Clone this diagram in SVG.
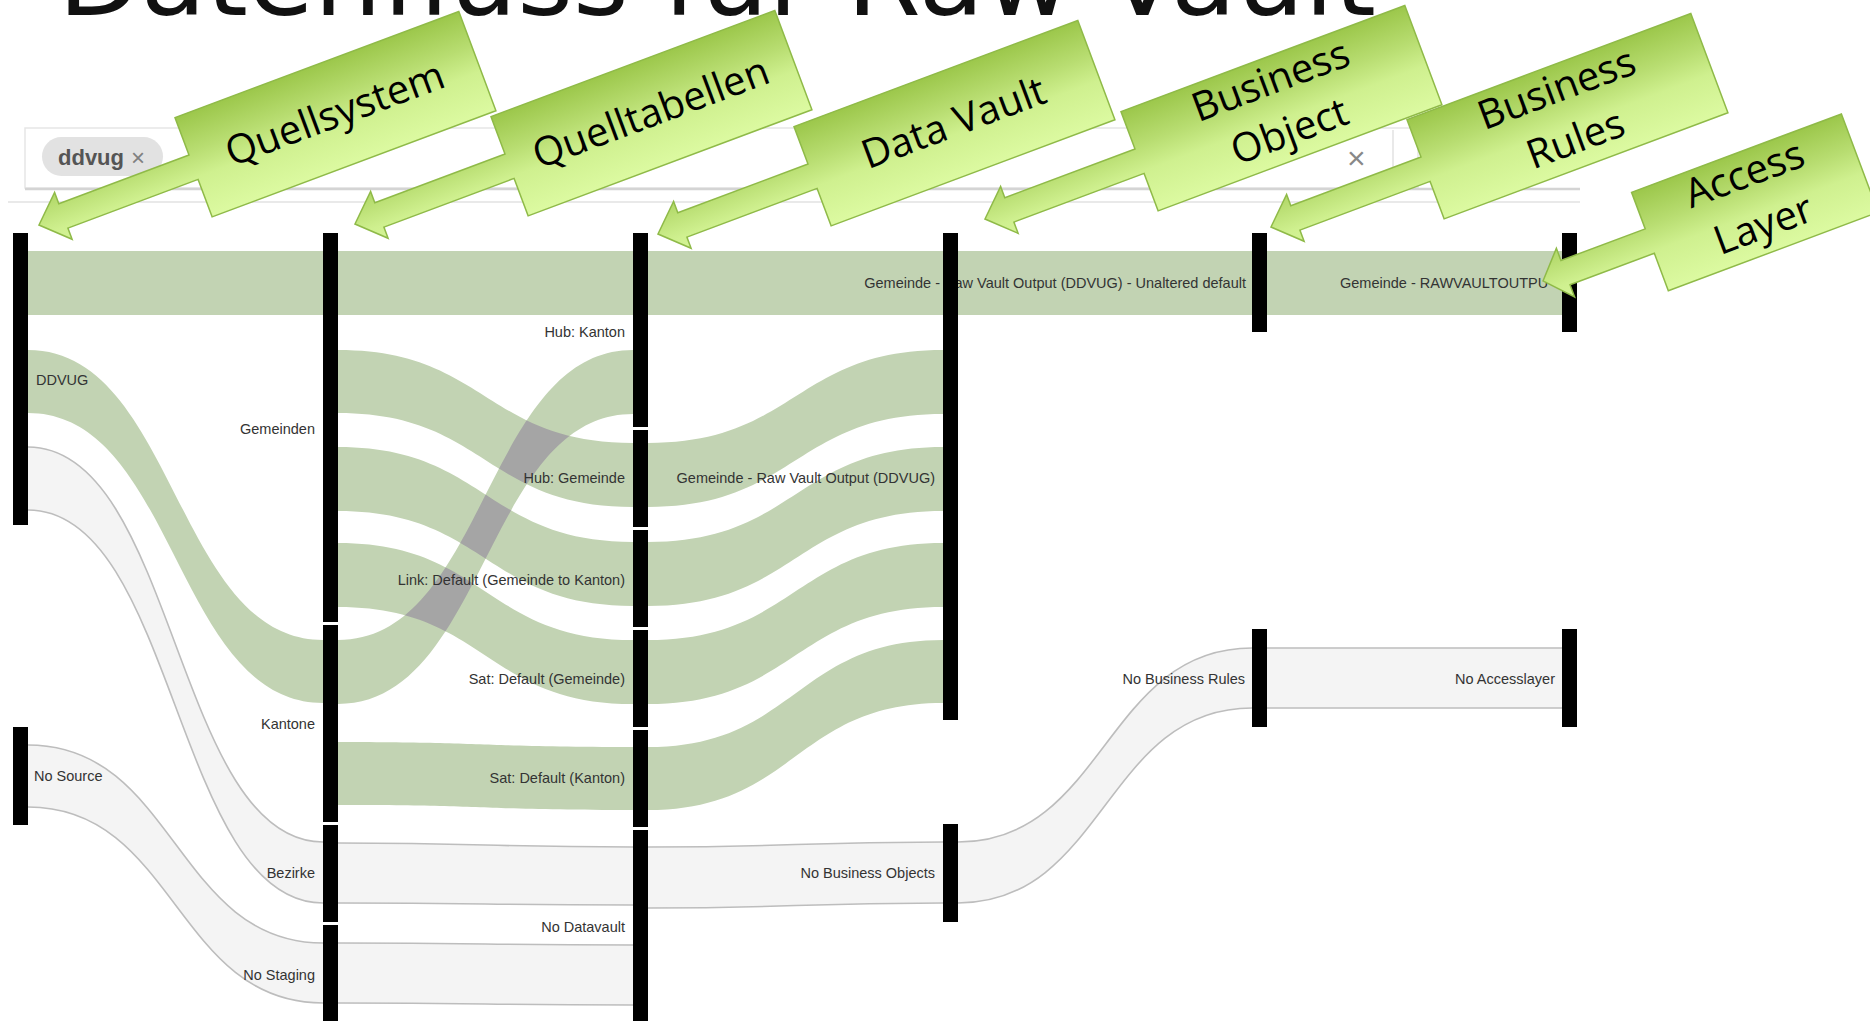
<svg xmlns="http://www.w3.org/2000/svg" xmlns:xlink="http://www.w3.org/1999/xlink" width="1870" height="1021" viewBox="0 0 1870 1021">
<style>
.bar{fill:#000}
.g{fill:#c2d3b3}
.ov{fill:#a5a5a5}
.lt{fill:#f4f4f4;stroke:#bdbdbd;stroke-width:1.6}
.lab{font-family:"Liberation Sans",Arial,sans-serif;font-size:14.5px;fill:#333}
.e{text-anchor:end}
.co{fill:url(#cg);stroke:#8fba48;stroke-width:1.5}
.ct{font-family:"Open Sans","Noto Sans",sans-serif;font-size:40px;fill:#000;text-anchor:middle}
</style>
<defs>
<linearGradient id="cg" x1="0" y1="0" x2="0" y2="1">
<stop offset="0" stop-color="#9cc74b"/>
<stop offset="0.35" stop-color="#b8dd71"/>
<stop offset="0.6" stop-color="#cff08f"/>
<stop offset="1" stop-color="#dcfaa1"/>
</linearGradient>
<path id="callStd" d="M0,0 L26,-25 L26,-13 L165,-13 L165,-53 L468,-53 L468,53 L165,53 L165,13 L26,13 L26,25 Z"/>
<path id="callAL" d="M0,0 L24,-26 L24,-13 L114,-13 L114,-52 L338,-52 L338,53 L114,53 L114,13 L24,13 L24,26 Z"/>
<path id="b5" d="M330 350 L338 350 C485.5 350 485.5 443 633 443 L641 443 L641 507 L633 507 C485.5 507 485.5 413 338 413 L330 413 Z"/>
<path id="b6" d="M330 447 L338 447 C485.5 447 485.5 542 633 542 L641 542 L641 606 L633 606 C485.5 606 485.5 511 338 511 L330 511 Z"/>
<path id="b7" d="M330 543 L338 543 C485.5 543 485.5 640 633 640 L641 640 L641 704 L633 704 C485.5 704 485.5 607 338 607 L330 607 Z"/>
<path id="b8" d="M330 640 L338 640 C485.5 640 485.5 350 633 350 L641 350 L641 414 L633 414 C485.5 414 485.5 704 338 704 L330 704 Z"/>
<clipPath id="riseClip"><use xlink:href="#b8"/></clipPath>
</defs>
<rect x="0" y="0" width="1870" height="1021" fill="#fff"/>

<g id="title">
<text x="58" y="15" font-family="DejaVu Sans,Verdana,sans-serif" font-size="104" textLength="1318" lengthAdjust="spacingAndGlyphs" fill="#111">Datenfluss für Raw Vault</text>
</g>

<g id="filterbar">
<rect x="25" y="128" width="1393" height="60" fill="#fff" stroke="#e6e6e6" stroke-width="1.5"/>
<line x1="25" y1="189" x2="1580" y2="189" stroke="#d4d4d4" stroke-width="2.5"/>
<line x1="8" y1="202" x2="1580" y2="202" stroke="#e9e9e9" stroke-width="2"/>
<line x1="1393" y1="130" x2="1393" y2="186" stroke="#e2e2e2" stroke-width="1.5"/>
<rect x="42" y="137" width="121" height="39" rx="19.5" fill="#e2e2e2"/>
<text x="58" y="165" font-family="Liberation Sans,Arial,sans-serif" font-size="22" font-weight="bold" fill="#555">ddvug</text>
<text x="131" y="166" font-family="Liberation Sans,Arial,sans-serif" font-size="24" fill="#808080">×</text>
<text x="1347" y="169" font-family="Liberation Sans,Arial,sans-serif" font-size="32" fill="#888">×</text>
</g>

<g id="connectors">
<rect class="g" x="20" y="251" width="1550" height="64"/>
<path class="g" d="M20 350 L28 350 C175.5 350 175.5 640 323 640 L331 640 L331 703 L323 703 C175.5 703 175.5 413 28 413 L20 413 Z"/>
<path class="lt" d="M20 447 L28 447 C175.5 447 175.5 842 323 842 L331 842 L331 903 L323 903 C175.5 903 175.5 510 28 510 L20 510 Z"/>
<path class="lt" d="M20 745 L28 745 C175.5 745 175.5 943 323 943 L331 943 L331 1003 L323 1003 C175.5 1003 175.5 807 28 807 L20 807 Z"/>
<use class="g" xlink:href="#b5"/>
<use class="g" xlink:href="#b6"/>
<use class="g" xlink:href="#b7"/>
<use class="g" xlink:href="#b8"/>
<g clip-path="url(#riseClip)">
<use class="ov" xlink:href="#b5"/>
<use class="ov" xlink:href="#b6"/>
<use class="ov" xlink:href="#b7"/>
</g>
<path class="g" d="M330 742 L338 742 C485.5 742 485.5 747 633 747 L641 747 L641 810 L633 810 C485.5 810 485.5 805 338 805 L330 805 Z"/>
<path class="lt" d="M330 843 L338 843 C485.5 843 485.5 847 633 847 L641 847 L641 905 L633 905 C485.5 905 485.5 903 338 903 L330 903 Z"/>
<path class="lt" d="M330 943 L338 943 C485.5 943 485.5 945 633 945 L641 945 L641 1005 L633 1005 C485.5 1005 485.5 1003 338 1003 L330 1003 Z"/>
<path class="g" d="M640 443 L648 443 C795.5 443 795.5 350 943 350 L951 350 L951 414 L943 414 C795.5 414 795.5 507 648 507 L640 507 Z"/>
<path class="g" d="M640 542 L648 542 C795.5 542 795.5 447 943 447 L951 447 L951 511 L943 511 C795.5 511 795.5 606 648 606 L640 606 Z"/>
<path class="g" d="M640 640 L648 640 C795.5 640 795.5 543 943 543 L951 543 L951 607 L943 607 C795.5 607 795.5 704 648 704 L640 704 Z"/>
<path class="g" d="M640 747 L648 747 C795.5 747 795.5 640 943 640 L951 640 L951 703 L943 703 C795.5 703 795.5 810 648 810 L640 810 Z"/>
<path class="lt" d="M640 847 L648 847 C795.5 847 795.5 842 943 842 L951 842 L951 903 L943 903 C795.5 903 795.5 908 648 908 L640 908 Z"/>
<path class="lt" d="M950 842 L958 842 C1105 842 1105 648 1252 648 L1260 648 L1260 708 L1252 708 C1105 708 1105 903 958 903 L950 903 Z"/>
<path class="lt" d="M1259 648 L1570 648 L1570 708 L1259 708 Z"/>
</g>

<g id="labels">
<text class="lab" x="36" y="385">DDVUG</text>
<text class="lab" x="34" y="781">No Source</text>
<text class="lab e" x="315" y="434">Gemeinden</text>
<text class="lab e" x="315" y="729">Kantone</text>
<text class="lab e" x="315" y="878">Bezirke</text>
<text class="lab e" x="315" y="980">No Staging</text>
<text class="lab e" x="625" y="337">Hub: Kanton</text>
<text class="lab e" x="625" y="483">Hub: Gemeinde</text>
<text class="lab e" x="625" y="585">Link: Default (Gemeinde to Kanton)</text>
<text class="lab e" x="625" y="684">Sat: Default (Gemeinde)</text>
<text class="lab e" x="625" y="783">Sat: Default (Kanton)</text>
<text class="lab e" x="625" y="932">No Datavault</text>
<text class="lab e" x="935" y="483">Gemeinde - Raw Vault Output (DDVUG)</text>
<text class="lab e" x="935" y="878">No Business Objects</text>
<text class="lab e" x="1246" y="288">Gemeinde - Raw Vault Output (DDVUG) - Unaltered default</text>
<text class="lab e" x="1245" y="684">No Business Rules</text>
<text class="lab" x="1340" y="288">Gemeinde - RAWVAULTOUTPU</text>
<text class="lab e" x="1555" y="684">No Accesslayer</text>
</g>

<g id="nodes">
<rect id="n-ddvug" class="bar" x="13" y="233" width="15" height="292"/>
<rect id="n-nosource" class="bar" x="13" y="727" width="15" height="98"/>
<rect id="n-gemeinden" class="bar" x="323" y="233" width="15" height="389"/>
<rect id="n-kantone" class="bar" x="323" y="625" width="15" height="197"/>
<rect id="n-bezirke" class="bar" x="323" y="825" width="15" height="97"/>
<rect id="n-nostaging" class="bar" x="323" y="925" width="15" height="110"/>
<rect id="n-hubkanton" class="bar" x="633" y="233" width="15" height="194"/>
<rect id="n-hubgemeinde" class="bar" x="633" y="430" width="15" height="97"/>
<rect id="n-link" class="bar" x="633" y="530" width="15" height="97"/>
<rect id="n-satgem" class="bar" x="633" y="630" width="15" height="97"/>
<rect id="n-satkanton" class="bar" x="633" y="730" width="15" height="97"/>
<rect id="n-nodv" class="bar" x="633" y="830" width="15" height="205"/>
<rect id="n-rvo" class="bar" x="943" y="233" width="15" height="487"/>
<rect id="n-nobo" class="bar" x="943" y="824" width="15" height="98"/>
<rect id="n-br-top" class="bar" x="1252" y="233" width="15" height="99"/>
<rect id="n-nobr" class="bar" x="1252" y="629" width="15" height="98"/>
<rect id="n-al-top" class="bar" x="1562" y="233" width="15" height="99"/>
<rect id="n-noal" class="bar" x="1562" y="629" width="15" height="98"/>
</g>

<g id="callouts">
<g id="c-quellsystem" transform="translate(39,225) rotate(-20.5)">
<use class="co" xlink:href="#callStd"/>
<text class="ct" x="316" y="13">Quellsystem</text>
</g>
<g id="c-quelltabellen" transform="translate(355,224) rotate(-20.5)">
<use class="co" xlink:href="#callStd"/>
<text class="ct" x="316" y="13">Quelltabellen</text>
</g>
<g id="c-datavault" transform="translate(658,234) rotate(-20.5)">
<use class="co" xlink:href="#callStd"/>
<text class="ct" x="316" y="13">Data Vault</text>
</g>
<g id="c-businessobject" transform="translate(985,219) rotate(-20.5)">
<use class="co" xlink:href="#callStd"/>
<text class="ct" x="316" y="-16">Business</text>
<text class="ct" x="316" y="38">Object</text>
</g>
<g id="c-businessrules" transform="translate(1271,227) rotate(-20.5)">
<use class="co" xlink:href="#callStd"/>
<text class="ct" x="316" y="-16">Business</text>
<text class="ct" x="316" y="38">Rules</text>
</g>
<g id="c-accesslayer" transform="translate(1543,281) rotate(-20.5)">
<use class="co" xlink:href="#callAL"/>
<text class="ct" x="226" y="-16">Access</text>
<text class="ct" x="226" y="38">Layer</text>
</g>
</g>
</svg>
